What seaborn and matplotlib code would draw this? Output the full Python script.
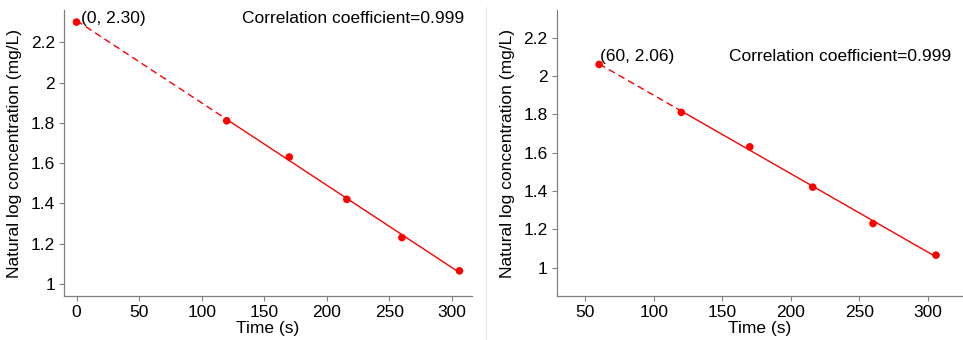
import numpy as np
import pandas as pd
import matplotlib
matplotlib.use("Agg")
import matplotlib.pyplot as plt
from matplotlib.lines import Line2D
from matplotlib.ticker import FuncFormatter
import seaborn as sns

# ---- data ----
time_measured = [120, 170, 216, 260, 306]
lnconc_measured = [1.81, 1.63, 1.42, 1.23, 1.065]
left_start = (0, 2.30)
right_start = (60, 2.06)
left_label = "(0, 2.30)"
right_label = "(60, 2.06)"
corr_text = "Correlation coefficient=0.999"
x_label = "Time (s)"
y_label = "Natural log concentration (mg/L)"
left_xticks = [0, 50, 100, 150, 200, 250, 300]
right_xticks = [50, 100, 150, 200, 250, 300]
yticks = [1, 1.2, 1.4, 1.6, 1.8, 2, 2.2]

sns.set_style("ticks")
plt.rcParams['font.family'] = ['Liberation Sans', 'DejaVu Sans']
plt.rcParams['text.color'] = 'black'
plt.rcParams['axes.labelcolor'] = 'black'
FS = 12.5
RED = "#ff0000"
GRAY = "#808080"

fig = plt.figure(figsize=(9.63, 3.4), dpi=100)
ax1 = fig.add_axes([64/963, 1-296/340, (472-64)/963, 286/340])
ax2 = fig.add_axes([556.7/963, 1-296/340, (962-556.7)/963, 286/340])

slope, intercept = np.polyfit(time_measured, lnconc_measured, 1)


def draw(ax, start, label, xlim, ylim, xticks, text_pos, label_off):
    xs_all = [start[0]] + time_measured
    ys_all = [start[1]] + lnconc_measured
    pts = pd.DataFrame({"t": xs_all, "y": ys_all})
    x0 = start[0]
    x1 = time_measured[0]
    x2 = time_measured[-1]
    dash_df = pd.DataFrame({"t": [x0, x1], "y": [slope * x0 + intercept, slope * x1 + intercept]})
    solid_df = pd.DataFrame({"t": [x1, x2], "y": [slope * x1 + intercept, slope * x2 + intercept]})
    sns.lineplot(data=dash_df, x="t", y="y", ax=ax, color=RED, lw=1.0,
                 linestyle=(0, (5, 3)))
    sns.lineplot(data=solid_df, x="t", y="y", ax=ax, color=RED, lw=1.0)
    sns.scatterplot(data=pts, x="t", y="y", ax=ax, color=RED, s=30,
                    edgecolor="none", zorder=5)
    ax.set_xlim(*xlim)
    ax.set_ylim(*ylim)
    ax.set_xticks(xticks)
    ax.set_yticks(yticks)
    ax.yaxis.set_major_formatter(FuncFormatter(lambda v, p: "%g" % v))
    ax.set_xlabel(x_label, fontsize=FS, labelpad=1, color="black")
    ax.set_ylabel(y_label, fontsize=FS, labelpad=6, color="black")
    ax.tick_params(labelsize=FS, length=3.5, width=0.8, color=GRAY, pad=3,
                   labelcolor="black")
    for s in ["top", "right"]:
        ax.spines[s].set_visible(False)
    for s in ["left", "bottom"]:
        ax.spines[s].set_color(GRAY)
        ax.spines[s].set_linewidth(0.9)
    ax.annotate(label, xy=start, xytext=label_off, textcoords="offset points",
                fontsize=FS, ha="left", va="center", color="black")
    ax.text(text_pos[0], text_pos[1], corr_text, fontsize=FS, color="black",
            ha=text_pos[2], va="center", transform=ax.transData)


draw(ax1, left_start, left_label, (-10, 316), (0.94, 2.36), left_xticks,
     (310, 2.316, "right"), (3, 2.5))
draw(ax2, right_start, right_label, (29, 325), (0.852, 2.344), right_xticks,
     (317, 2.1, "right"), (0.5, 5.5))

fig.add_artist(Line2D([485.5/963, 485.5/963], [0, 1-7/340], color="#e6e6e6", lw=0.8))

fig.savefig("out.png", dpi=100)
